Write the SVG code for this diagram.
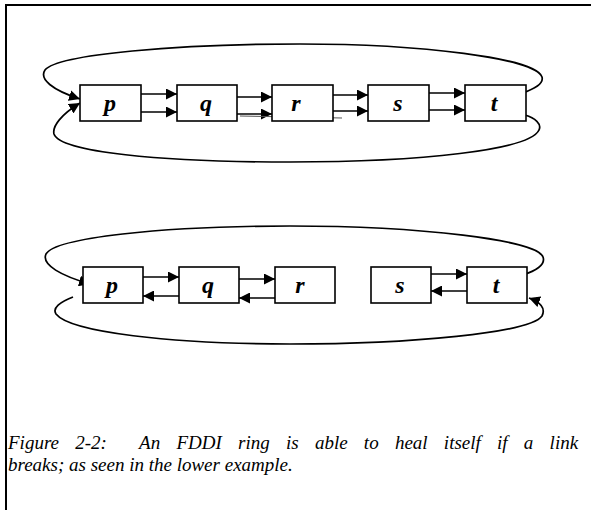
<svg xmlns="http://www.w3.org/2000/svg" width="591" height="510" viewBox="0 0 591 510">
  <style>
    .frame { stroke: #000; stroke-width: 2; fill: none; }
    .box { fill: #fff; stroke: #000; stroke-width: 1.6; }
    .lbl { font-family: 'Liberation Serif', Tinos, 'DejaVu Serif', serif; font-weight: bold; font-style: italic; font-size: 24px; fill: #000; text-anchor: middle; }
    .link { stroke: #000; stroke-width: 1.5; fill: none; marker-end: url(#head); }
    .ring { stroke: #000; stroke-width: 1.7; fill: none; }
    .ring.arr { marker-end: url(#head); }
    .stray { stroke: #555; stroke-width: 1; fill: none; }
    .cap { font-family: 'Liberation Serif', Tinos, 'DejaVu Serif', serif; font-style: italic; font-size: 19px; fill: #000; }
  </style>
  <defs>
    <marker id="head" viewBox="0 0 11 11" markerUnits="userSpaceOnUse" markerWidth="11" markerHeight="11" refX="11" refY="5.5" orient="auto">
      <path d="M0,0 L11,5.5 L0,11 z" fill="#000"/>
    </marker>
  </defs>

  <rect width="591" height="510" fill="#fff"/>
  <!-- frame (top and left edges) -->
  <path class="frame" d="M6,510 L6,5 L591,5"/>

  <!-- connectors -->
  <g id="connectors">
    <!-- upper ring: both loops feed into p -->
    <path class="ring arr" d="M522,93 C534,89 544,84 542,77 C536,58 420,44 300,44 C180,44 58,54 45,70 C39,79 52,90 80,99"/>
    <path class="ring arr" d="M525,115 C535,118 542,124 539,130 C530,150 420,162 290,162 C160,162 60,152 54,134 C52,126 62,114 80,103"/>
    <line class="link" x1="136" y1="94" x2="177" y2="94"/>
    <line class="link" x1="136" y1="112" x2="177" y2="112"/>
    <line class="link" x1="237" y1="97" x2="272" y2="97"/>
    <line class="link" x1="237" y1="114" x2="272" y2="114"/>
    <line class="stray" x1="240" y1="116" x2="342" y2="118"/>
    <line class="link" x1="333" y1="95" x2="368" y2="95"/>
    <line class="link" x1="333" y1="111" x2="368" y2="111"/>
    <line class="link" x1="429" y1="93" x2="465" y2="93"/>
    <line class="link" x1="429" y1="110" x2="465" y2="110"/>

    <!-- lower ring: broken between r and s, wrapped back at p and t -->
    <path class="ring arr" d="M523,275 C535,271 546,265 543,257 C537,240 420,226 290,226 C160,226 55,238 46,254 C41,265 62,276 90,284"/>
    <path class="ring arr" d="M73,297 C60,302 52,308 56,314 C70,332 170,344 290,344 C410,344 530,333 542,316 C546,308 540,302 529,298"/>
    <line class="link" x1="137" y1="277" x2="179" y2="277"/>
    <line class="link" x1="179" y1="296" x2="143" y2="296"/>
    <line class="link" x1="239" y1="279" x2="275" y2="279"/>
    <line class="link" x1="279" y1="298" x2="239" y2="298"/>
    <line class="stray" x1="279" y1="300" x2="335" y2="300"/>
    <line class="link" x1="431" y1="274" x2="467" y2="274"/>
    <line class="link" x1="471" y1="291" x2="431" y2="291"/>
  </g>

  <!-- upper ring stations -->
  <g id="top-p"><rect class="box" x="80" y="85" width="61" height="36"/><text class="lbl" x="110" y="111">p</text></g>
  <g id="top-q"><rect class="box" x="177" y="85" width="60" height="36"/><text class="lbl" x="206" y="111">q</text></g>
  <g id="top-r"><rect class="box" x="272" y="85" width="61" height="36" fill="none"/><text class="lbl" x="296" y="111">r</text></g>
  <g id="top-s"><rect class="box" x="368" y="85" width="61" height="36"/><text class="lbl" x="398" y="111">s</text></g>
  <g id="top-t"><rect class="box" x="465" y="85" width="61" height="36"/><text class="lbl" x="494" y="111">t</text></g>

  <!-- lower ring stations -->
  <g id="bot-p"><rect class="box" x="83" y="267" width="60" height="36"/><text class="lbl" x="112" y="293">p</text></g>
  <g id="bot-q"><rect class="box" x="179" y="267" width="60" height="36"/><text class="lbl" x="208" y="293">q</text></g>
  <g id="bot-r"><rect class="box" x="275" y="267" width="60" height="36"/><text class="lbl" x="300" y="293">r</text></g>
  <g id="bot-s"><rect class="box" x="371" y="267" width="60" height="36"/><text class="lbl" x="400" y="293">s</text></g>
  <g id="bot-t"><rect class="box" x="467" y="267" width="60" height="36"/><text class="lbl" x="496" y="293">t</text></g>

  <!-- caption -->
  <g id="caption">
    <text class="cap" x="8" y="449" xml:space="preserve" word-spacing="11.5">Figure 2-2:  An FDDI ring is able to heal itself if a link</text>
    <text class="cap" x="8" y="471">breaks; as seen in the lower example.</text>
  </g>
</svg>
